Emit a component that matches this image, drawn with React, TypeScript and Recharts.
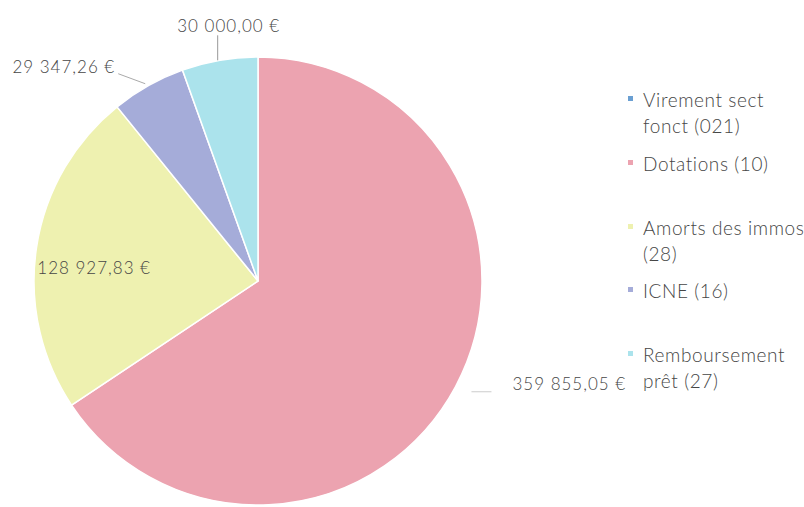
import { Legend, Pie, PieChart, Cell } from "recharts";

const categories = [
  "Virement sect fonct (021)",
  "Dotations (10)",
  "Amorts des immos (28)",
  "ICNE (16)",
  "Remboursement prêt (27)",
];
const values = [0, 359855.05, 128927.83, 29347.26, 30000];
const valueLabels = ["", "359 855,05 €", "128 927,83 €", "29 347,26 €", "30 000,00 €"];
const sliceColors = ["#6a9fd2", "#eca3b0", "#eef1b0", "#a5acd9", "#abe3ec"];
const legendLines = [
  ["Virement sect", "fonct (021)"],
  ["Dotations (10)"],
  ["Amorts des immos", "(28)"],
  ["ICNE (16)"],
  ["Remboursement", "prêt (27)"],
];

const data = categories.map((name, i) => ({ name, value: values[i], label: valueLabels[i] }));

const font = "Lato, 'Open Sans', sans-serif";
const textColor = "#464646";

function Txt(props: any) {
  return (
    <text dominantBaseline="central" fill={textColor} fontFamily={font} fontSize={17}
      fontWeight={300} letterSpacing={1} {...props} />
  );
}

function SliceLabel(props: any) {
  const { cx, cy, midAngle, outerRadius, index } = props;
  const text = valueLabels[index];
  if (!text) return null;
  const rad = (Math.PI / 180) * midAngle;
  const ex = cx + outerRadius * Math.cos(rad);
  const ey = cy - outerRadius * Math.sin(rad);

  if (index === 2) {
    // inside the yellow slice
    const r = outerRadius * 0.74;
    return (
      <Txt x={cx + r * Math.cos(rad)} y={cy - r * Math.sin(rad) + 12} textAnchor="middle">
        {text}
      </Txt>
    );
  }
  if (index === 4) {
    return (
      <g>
        <line x1={ex - 2} y1={ey} x2={ex - 2} y2={ey - 25} stroke="#999" strokeWidth={1} />
        <Txt x={ex + 9} y={ey - 35} textAnchor="middle">{text}</Txt>
      </g>
    );
  }
  if (index === 3) {
    return (
      <g>
        <line x1={ex - 3} y1={ey - 2} x2={ex - 30} y2={ey - 12} stroke="#aaa" strokeWidth={1} />
        <Txt x={ex - 33} y={ey - 19} textAnchor="end">{text}</Txt>
      </g>
    );
  }
  return (
    <g>
      <line x1={ex + 16} y1={ey + 5} x2={ex + 36} y2={ey + 5} stroke="#ccc" strokeWidth={1} />
      <Txt x={ex + 57} y={ey - 3} textAnchor="start">{text}</Txt>
    </g>
  );
}

function LegendBox() {
  return (
    <div style={{ fontFamily: font, fontSize: 19, fontWeight: 300, color: textColor, letterSpacing: 0.6 }}>
      {legendLines.map((lines, i) => (
        <div key={categories[i]} style={{ height: 63.75, position: "relative", paddingLeft: 15, lineHeight: "26px" }}>
          <span style={{ position: "absolute", left: 0, top: 9, width: 5, height: 5, background: sliceColors[i] }} />
          {lines.map((l) => (
            <div key={l} style={{ whiteSpace: "nowrap" }}>{l}</div>
          ))}
        </div>
      ))}
    </div>
  );
}

export default function App() {
  return (
    <div style={{ position: "absolute", left: 0, top: 0, width: 804, height: 507, background: "#fff", overflow: "hidden" }}>
      <PieChart width={804} height={507} margin={{ top: 0, right: 0, bottom: 0, left: 0 }}>
        <Pie
          data={data}
          dataKey="value"
          nameKey="name"
          cx={258}
          cy={281}
          outerRadius={224}
          startAngle={90}
          endAngle={-270}
          stroke="#fff"
          strokeWidth={1.5}
          label={SliceLabel}
          labelLine={false}
          isAnimationActive={false}
        >
          {data.map((d, i) => (
            <Cell key={d.name} fill={sliceColors[i]} />
          ))}
        </Pie>
        <Legend
          layout="vertical"
          content={() => <LegendBox />}
          wrapperStyle={{ position: "absolute", left: 628, top: 87, width: 176 }}
        />
      </PieChart>
    </div>
  );
}
